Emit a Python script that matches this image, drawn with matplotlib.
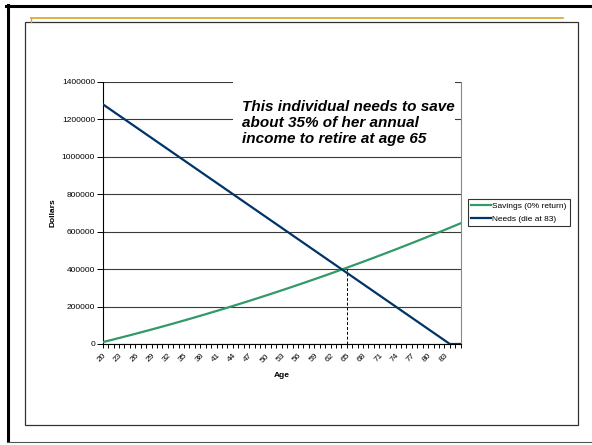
import numpy as np
import matplotlib.pyplot as plt
from matplotlib.lines import Line2D
from matplotlib.patches import Rectangle

plt.rcParams['font.family'] = ['Liberation Sans', 'DejaVu Sans']

# Ages 20..86, one value per year
ages = list(range(20, 87))
savings = [10000, 17200, 24400, 31800, 39200, 46600, 54200, 61800, 69500, 77300,
           85100, 93100, 101100, 109100, 117300, 125500, 133800, 142200, 150600, 159200,
           167800, 176400, 185200, 194000, 202900, 211900, 220900, 230100, 239300, 248500,
           257900, 267300, 276800, 286400, 296000, 305800, 315600, 325400, 335400, 345400,
           355500, 365700, 375900, 386300, 396700, 407100, 417700, 428300, 439000, 449800,
           460600, 471600, 482600, 493600, 504800, 516000, 527300, 538700, 550100, 561700,
           573300, 584900, 596700, 608500, 620400, 632400, 644400]
needs = [1280000, 1260000, 1240000, 1220000, 1200000, 1180000, 1160000, 1140000, 1120000, 1100000,
         1080000, 1060000, 1040000, 1020000, 1000000, 980000, 960000, 940000, 920000, 900000,
         880000, 860000, 840000, 820000, 800000, 780000, 760000, 740000, 720000, 700000,
         680000, 660000, 640000, 620000, 600000, 580000, 560000, 540000, 520000, 500000,
         480000, 460000, 440000, 420000, 400000, 380000, 360000, 340000, 320000, 300000,
         280000, 260000, 240000, 220000, 200000, 180000, 160000, 140000, 120000, 100000,
         80000, 60000, 40000, 20000, 0, 0, 0]
age_labels = list(range(20, 84, 3))
dollar_ticks = [0, 200000, 400000, 600000, 800000, 1000000, 1200000, 1400000]
retire_age = 65
retire_value = 400000

W, H = 592, 445
fig = plt.figure(figsize=(W / 100, H / 100), dpi=100)
fig.patch.set_facecolor('white')

def px(x, y):
    return x / W, 1 - y / H

# slide frame
for (x0, y0), (x1, y1), c, lw in [((7.5, 5), (7.5, 441), 'black', 2.2),
                                  ((6, 5.5), (592, 5.5), 'black', 2.2),
                                  ((7, 441.5), (592, 441.5), '#555555', 0.8),
                                  ((31, 17.5), (563, 17.5), '#D9A521', 1.2),
                                  ((31, 17.5), (31, 22), '#D9A521', 1.0)]:
    a, b = px(x0, y0)
    c2, d = px(x1, y1)
    fig.add_artist(Line2D([a, c2], [b, d], color=c, lw=lw, transform=fig.transFigure))
bx, by = px(24.5, 425)
fig.add_artist(Rectangle((bx, by), (578 - 24.5) / W, (425 - 22) / H, fill=False,
                         edgecolor='#333333', lw=0.9, transform=fig.transFigure))

# plot area
l, b = px(102.7, 344)
ax = fig.add_axes([l, b, (460.7 - 102.7) / W, (344 - 81.7) / H])
ax.set_axisbelow(True)

ax.plot(ages, savings, color='#339966', lw=1.6, label='Savings (0% return)', zorder=4)
ax.plot(ages, needs, color='#003366', lw=1.6, label='Needs (die at 83)', zorder=4)
ax.plot([retire_age, retire_age], [0, retire_value], color='black', lw=0.7,
        ls=(0, (3, 2)), zorder=3)

ax.set_xlim(ages[0], ages[-1])
ax.set_ylim(dollar_ticks[0], dollar_ticks[-1])
ax.set_xticks(age_labels)
ax.set_xticklabels([str(a) for a in age_labels], rotation=45, ha='right', va='top',
                   rotation_mode='anchor', fontsize=6)
ax.set_xticks(ages, minor=True)
ax.set_yticks(dollar_ticks)
ax.set_yticklabels([str(v) for v in dollar_ticks], fontsize=6)
ax.tick_params(axis='x', which='both', direction='out', length=3, width=0.7, pad=3)
ax.tick_params(axis='y', direction='out', length=4, width=0.7, pad=1.5)

ax.yaxis.grid(True, color='#3a3a3a', lw=0.8)
ax.spines['top'].set_visible(False)
ax.spines['right'].set_color('#888888')
ax.spines['left'].set_linewidth(0.8)
ax.spines['bottom'].set_linewidth(0.8)

ax.set_xlabel('Age', fontsize=6, fontweight='bold', labelpad=6)
ax.set_ylabel('Dollars', fontsize=6, fontweight='bold', labelpad=4)

# white text box sitting over the gridlines
ax.add_patch(Rectangle((0.364, 0.74), 0.62, 0.275, transform=ax.transAxes,
                       facecolor='white', edgecolor='none', clip_on=False, zorder=1))
ax.text(0.388, 0.93, 'This individual needs to save\nabout 35% of her annual\nincome to retire at age 65',
        transform=ax.transAxes, ha='left', va='top', fontsize=11, fontweight='bold',
        fontstyle='italic', linespacing=1.18, zorder=2)

leg = ax.legend(loc='upper left', bbox_to_anchor=px(468, 199), bbox_transform=fig.transFigure,
                borderaxespad=0, fontsize=6, frameon=True, fancybox=False, handlelength=2.4,
                handletextpad=0.1, labelspacing=0.6, borderpad=0.4)
leg.get_frame().set_edgecolor('black')
leg.get_frame().set_linewidth(0.8)

fig.savefig('out.png', dpi=100)
